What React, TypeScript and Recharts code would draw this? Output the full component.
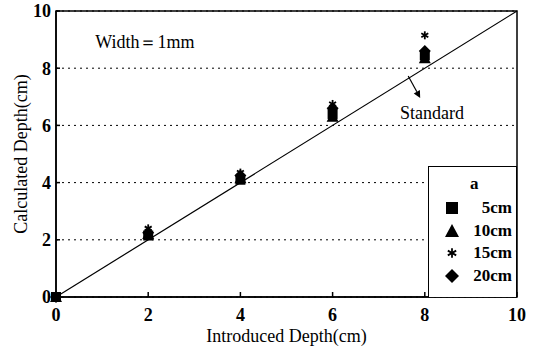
import {
  CartesianGrid,
  ReferenceArea,
  ReferenceDot,
  ReferenceLine,
  Scatter,
  ScatterChart,
  XAxis,
  YAxis,
} from "recharts";

const introduced = [0, 2, 4, 6, 8];
const depth5cm = [0, 2.15, 4.1, 6.4, 8.45];
const depth10cm = [0, 2.2, 4.15, 6.3, 8.35];
const depth15cm = [0, 2.4, 4.35, 6.75, 9.15];
const depth20cm = [0, 2.25, 4.25, 6.6, 8.6];
const ticks = [0, 2, 4, 6, 8, 10];

type MarkerKind = "square" | "triangle" | "asterisk" | "diamond";

const series: { name: string; kind: MarkerKind; values: number[] }[] = [
  { name: "5cm", kind: "square", values: depth5cm },
  { name: "10cm", kind: "triangle", values: depth10cm },
  { name: "15cm", kind: "asterisk", values: depth15cm },
  { name: "20cm", kind: "diamond", values: depth20cm },
];

const FONT = "Times New Roman, Liberation Serif, DejaVu Serif, serif";
const W = 536;
const H = 349;

// one glyph drawn around (cx, cy); used by the scatter and the legend
function Marker({ kind, cx, cy, s = 5 }: { kind: MarkerKind; cx: number; cy: number; s?: number }) {
  if (kind === "square") {
    return <rect x={cx - s} y={cy - s} width={s * 2} height={s * 2} fill="#000" />;
  }
  if (kind === "triangle") {
    return <polygon points={`${cx},${cy - s - 1} ${cx + s + 1},${cy + s} ${cx - s - 1},${cy + s}`} fill="#000" />;
  }
  if (kind === "diamond") {
    return <polygon points={`${cx},${cy - s - 1} ${cx + s + 1},${cy} ${cx},${cy + s + 1} ${cx - s - 1},${cy}`} fill="#000" />;
  }
  const r = s * 0.8;
  return (
    <g stroke="#000" strokeWidth={1.8}>
      <line x1={cx} y1={cy - r} x2={cx} y2={cy + r} />
      <line x1={cx - r * 0.87} y1={cy - r / 2} x2={cx + r * 0.87} y2={cy + r / 2} />
      <line x1={cx - r * 0.87} y1={cy + r / 2} x2={cx + r * 0.87} y2={cy - r / 2} />
    </g>
  );
}

function ArrowShape(props: any) {
  const { x1, y1, x2, y2 } = props;
  const ang = Math.atan2(y2 - y1, x2 - x1);
  const l = 7;
  const w = 3.5;
  const bx = x2 - l * Math.cos(ang);
  const by = y2 - l * Math.sin(ang);
  const px = -Math.sin(ang) * w;
  const py = Math.cos(ang) * w;
  return (
    <g>
      <line x1={x1} y1={y1} x2={bx} y2={by} stroke="#000" strokeWidth={1.2} />
      <polygon points={`${x2},${y2} ${bx + px},${by + py} ${bx - px},${by - py}`} fill="#000" />
    </g>
  );
}

function TextAt(text: string, size: number) {
  return (props: any) => (
    <text x={props.cx} y={props.cy} fontFamily={FONT} fontSize={size} fill="#000" dominantBaseline="central">
      {text}
    </text>
  );
}

function YTitle(props: any) {
  const vb = props.viewBox || {};
  const cy = 154;
  const cx = 21;
  return (
    <text
      x={cx}
      y={cy}
      transform={`rotate(-90 ${cx} ${cy})`}
      textAnchor="middle"
      dominantBaseline="central"
      fontFamily={FONT}
      fontSize={18}
      fill="#000"
      data-h={vb.height}
    >
      Calculated Depth(cm)
    </text>
  );
}

function LegendBox() {
  return (
    <div
      style={{
        position: "absolute",
        left: 428,
        top: 166,
        width: 89,
        height: 131,
        boxSizing: "border-box",
        border: "1.5px solid #000",
        borderBottom: "none",
        background: "#fff",
        fontFamily: FONT,
        fontSize: 17,
        fontWeight: 700,
      }}
    >
      <div style={{ position: "absolute", left: 41, top: 7 }}>a</div>
      {series.map((s, i) => (
        <div key={s.name} style={{ position: "absolute", left: 0, top: 31 + i * 22.7, width: 89, height: 20, lineHeight: "20px" }}>
          <svg width={30} height={20} style={{ position: "absolute", left: 8, top: 0 }}>
            <Marker kind={s.kind} cx={15} cy={10} s={6} />
          </svg>
          <span style={{ position: "absolute", right: 6, top: 0 }}>{s.name}</span>
        </div>
      ))}
    </div>
  );
}

export default function App() {
  return (
    <div style={{ position: "absolute", left: 0, top: 0, width: W, height: H, background: "#fff" }}>
      <ScatterChart width={W} height={H} margin={{ top: 11, right: 19, bottom: 0, left: 0 }}>
        <CartesianGrid vertical={false} stroke="#000" strokeDasharray="2 4" />
        <XAxis
          type="number"
          dataKey="x"
          domain={[0, 10]}
          ticks={ticks}
          height={52}
          stroke="#000"
          strokeWidth={1.5}
          tickSize={-5}
          tickMargin={16}
          tick={{ fill: "#000", fontFamily: FONT, fontSize: 18, fontWeight: 700 }}
          label={{
            value: "Introduced Depth(cm)",
            position: "insideBottom",
            offset: 7,
            style: { fill: "#000", fontFamily: FONT, fontSize: 18 },
          }}
        />
        <YAxis
          type="number"
          dataKey="y"
          domain={[0, 10]}
          ticks={ticks}
          width={56}
          stroke="#000"
          strokeWidth={1.5}
          tickSize={-4}
          tickMargin={9}
          tick={{ fill: "#000", fontFamily: FONT, fontSize: 18, fontWeight: 700 }}
          label={{ content: YTitle }}
        />
        <ReferenceArea x1={0} x2={10} y1={0} y2={10} fill="none" stroke="#000" strokeWidth={1.5} />
        <ReferenceLine
          segment={[
            { x: 0, y: 0 },
            { x: 10, y: 10 },
          ]}
          stroke="#000"
          strokeWidth={1.2}
        />
        <ReferenceLine
          segment={[
            { x: 7.64, y: 7.73 },
            { x: 7.9, y: 6.96 },
          ]}
          shape={ArrowShape}
        />
        <ReferenceDot x={0.85} y={8.9} r={0} shape={TextAt("Width＝1mm", 18)} />
        <ReferenceDot x={7.46} y={6.43} r={0} shape={TextAt("Standard", 18)} />
        {series.map((s) => (
          <Scatter
            key={s.name}
            name={s.name}
            data={introduced.map((x, i) => ({ x, y: s.values[i] }))}
            shape={(p: any) => <Marker kind={s.kind} cx={p.cx} cy={p.cy} s={5} />}
            isAnimationActive={false}
          />
        ))}
      </ScatterChart>
      <LegendBox />
    </div>
  );
}
